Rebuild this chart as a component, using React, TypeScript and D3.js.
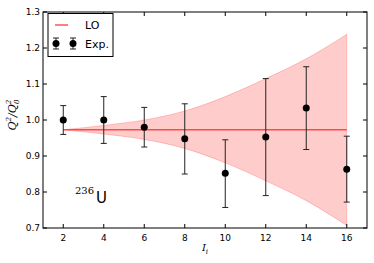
import React from "react";
import * as d3 from "d3";

const spins = [2, 4, 6, 8, 10, 12, 14, 16];
const expValues = [1.0, 1.0, 0.98, 0.948, 0.852, 0.953, 1.033, 0.863];
const expUpper = [1.04, 1.065, 1.035, 1.045, 0.945, 1.115, 1.148, 0.955];
const expLower = [0.96, 0.935, 0.925, 0.85, 0.757, 0.79, 0.918, 0.772];
const loValue = 0.973;
const bandUpper = [0.973, 0.985, 1.0, 1.025, 1.065, 1.115, 1.17, 1.238];
const bandLower = [0.973, 0.961, 0.946, 0.921, 0.881, 0.831, 0.776, 0.707];
const xTicks = [2, 4, 6, 8, 10, 12, 14, 16];
const yTicks = [0.7, 0.8, 0.9, 1.0, 1.1, 1.2, 1.3];

const W = 374;
const H = 263;
const m = { left: 43, right: 367, top: 12, bottom: 228 };

const App = () => {
  const x = d3.scaleLinear().domain([1, 17]).range([m.left, m.right]);
  const y = d3.scaleLinear().domain([0.7, 1.3]).range([m.bottom, m.top]);

  const area = d3
    .area<number>()
    .x((d, i) => x(spins[i]))
    .y0((d, i) => y(bandLower[i]))
    .y1((d) => y(d))
    .curve(d3.curveMonotoneX);

  const font = "DejaVu Sans, sans-serif";
  const cap = 3;

  return (
    <svg width={W} height={H} style={{ position: "absolute", left: 0, top: 0 }}>
      <rect width={W} height={H} fill="white" />
      <path d={area(bandUpper) || ""} fill="#ff0000" fillOpacity={0.2} stroke="#ff0000" strokeOpacity={0.2} />
      <line x1={x(spins[0])} x2={x(spins[spins.length - 1])} y1={y(loValue)} y2={y(loValue)} stroke="#ff4848" strokeWidth={1.5} />

      {spins.map((s, i) => (
        <g key={i}>
          <line x1={x(s)} x2={x(s)} y1={y(expUpper[i])} y2={y(expLower[i])} stroke="#222" strokeWidth={1} />
          <line x1={x(s) - cap} x2={x(s) + cap} y1={y(expUpper[i])} y2={y(expUpper[i])} stroke="#222" strokeWidth={1} />
          <line x1={x(s) - cap} x2={x(s) + cap} y1={y(expLower[i])} y2={y(expLower[i])} stroke="#222" strokeWidth={1} />
          <circle cx={x(s)} cy={y(expValues[i])} r={3.5} fill="black" />
        </g>
      ))}

      <rect x={m.left} y={m.top} width={m.right - m.left} height={m.bottom - m.top} fill="none" stroke="black" strokeWidth={1} />

      {xTicks.map((t) => (
        <g key={"x" + t}>
          <line x1={x(t)} x2={x(t)} y1={m.bottom} y2={m.bottom - 4} stroke="black" />
          <line x1={x(t)} x2={x(t)} y1={m.top} y2={m.top + 4} stroke="black" />
          <text x={x(t)} y={m.bottom + 13} textAnchor="middle" fontSize={9} fontFamily={font}>{t}</text>
        </g>
      ))}
      {yTicks.map((t) => (
        <g key={"y" + t}>
          <line x1={m.left} x2={m.left + 4} y1={y(t)} y2={y(t)} stroke="black" />
          <line x1={m.right} x2={m.right - 4} y1={y(t)} y2={y(t)} stroke="black" />
          <text x={m.left - 3} y={y(t) + 3} textAnchor="end" fontSize={9} fontFamily={font}>{t.toFixed(1)}</text>
        </g>
      ))}

      <text x={205} y={251} fontSize={10} fontFamily="DejaVu Serif, serif" fontStyle="italic" textAnchor="middle">
        I<tspan fontSize={7} dy={3}>i</tspan>
      </text>
      <text transform={`translate(16,115) rotate(-90)`} fontSize={11} fontFamily="DejaVu Serif, serif" fontStyle="italic" textAnchor="middle">
        Q<tspan fontSize={7} dy={-5}>2</tspan><tspan dy={5}>/Q</tspan><tspan fontSize={7} dy={-5}>2</tspan><tspan fontSize={7} dx={-4} dy={8}>0</tspan>
      </text>

      <text x={75} y={194} fontSize={10} fontFamily="DejaVu Serif, serif">236</text>
      <text x={96} y={203} fontSize={15} fontFamily={font}>U</text>

      <g>
        <rect x={48} y={13.5} width={65} height={43} fill="white" stroke="black" strokeWidth={1} />
        <line x1={55} x2={68} y1={25} y2={25} stroke="#ff5555" strokeWidth={1.5} />
        <text x={85} y={29} fontSize={11} fontFamily={font}>LO</text>
        {[56, 73].map((cx) => (
          <g key={cx}>
            <line x1={cx} x2={cx} y1={38} y2={49} stroke="#222" />
            <line x1={cx - 3} x2={cx + 3} y1={38} y2={38} stroke="#222" />
            <line x1={cx - 3} x2={cx + 3} y1={49} y2={49} stroke="#222" />
            <circle cx={cx} cy={43.5} r={3.5} fill="black" />
          </g>
        ))}
        <text x={85} y={47.5} fontSize={11} fontFamily={font}>Exp.</text>
      </g>
    </svg>
  );
};

export default App;
